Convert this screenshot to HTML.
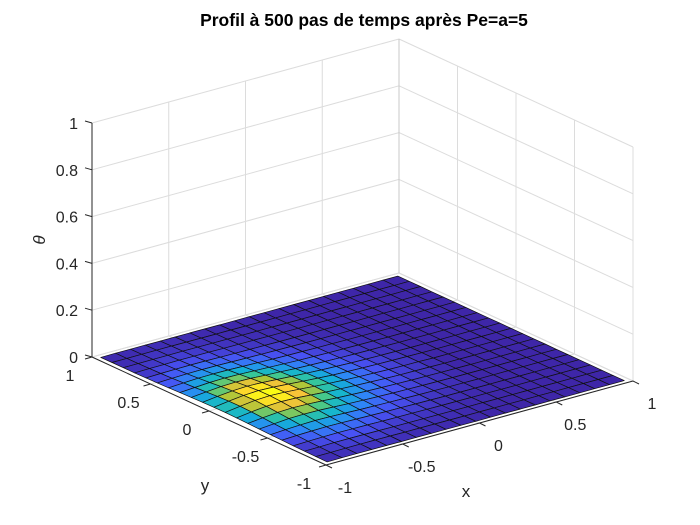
<!DOCTYPE html>
<html><head><meta charset="utf-8">
<style>
html,body{margin:0;padding:0;background:#fff;}
svg{display:block;font-family:"Liberation Sans",Arial,sans-serif;}
</style></head>
<body>
<svg id="chart" width="700" height="525" viewBox="0 0 700 525" xmlns="http://www.w3.org/2000/svg">
<rect width="700" height="525" fill="#fff"/>
<g id="walls"></g>
<g id="surf"></g>
<g id="axes"></g>
<text x="364" y="26" text-anchor="middle" font-size="17.5" font-weight="bold" fill="#000">Profil à 500 pas de temps après Pe=a=5</text>
</svg>
<script>
const xTicks = [-1, -0.5, 0, 0.5, 1];
const yTicks = [-1, -0.5, 0, 0.5, 1];
const zTicks = [0, 0.2, 0.4, 0.6, 0.8, 1];
const zTickLabels = ["0", "0.2", "0.4", "0.6", "0.8", "1"];
const xTickLabels = ["-1", "-0.5", "0", "0.5", "1"];
const yTickLabels = ["-1", "-0.5", "0", "0.5", "1"];
const gridN = 21;
const gridMin = -0.968, gridMax = 0.968;
const baseTheta = 0;
const peakTheta = 0.03;
const blockI0 = 0, blockJ0 = 0;
const thetaPct = [
 [1,2,4,7,11,15,21,27,32,35,34,30,25,19,13,9,5,3,2,1,0],
 [2,4,7,12,20,29,39,49,59,65,63,56,46,34,25,16,10,6,3,2,1],
 [3,5,10,17,27,40,54,68,81,90,87,77,63,48,34,23,14,8,5,3,1],
 [3,6,11,19,30,44,60,76,90,100,97,86,70,53,38,25,15,9,5,3,1],
 [3,6,10,17,28,40,55,70,83,92,89,79,64,49,35,23,14,8,5,3,1],
 [2,5,8,14,23,33,46,58,68,76,74,65,53,40,29,19,11,7,4,2,1],
 [2,3,6,11,17,26,35,44,52,60,58,52,43,32,23,15,9,5,3,2,1],
 [1,3,5,8,14,20,27,34,40,45,44,39,31,24,17,11,6,4,2,1,0],
 [1,2,4,7,11,15,20,25,29,32,31,28,23,17,12,8,5,3,1,1,0],
 [1,2,3,5,8,11,14,18,21,23,22,20,16,12,9,6,3,2,1,1,0],
 [0,1,2,3,5,7,10,12,14,16,15,13,11,8,6,4,2,1,1,0,0],
 [0,1,1,2,3,5,6,8,9,10,10,9,7,5,4,2,1,1,0,0,0],
 [0,0,1,1,2,3,4,5,6,6,6,5,4,3,2,1,1,0,0,0,0],
 [0,0,0,1,1,2,2,3,3,4,4,3,3,2,1,1,0,0,0,0,0]
];

const NS = "http://www.w3.org/2000/svg";
const F = [326, 465], EX = [153.5, -42], EY = [-117, -54], ZS = 234;
function P(x, y, z) {
  return [F[0] + (x + 1) * EX[0] + (y + 1) * EY[0], F[1] + (x + 1) * EX[1] + (y + 1) * EY[1] - z * ZS];
}
function el(tag, attrs, parent) {
  const e = document.createElementNS(NS, tag);
  for (const k in attrs) e.setAttribute(k, attrs[k]);
  parent.appendChild(e);
  return e;
}
function line(a, b, stroke, w, parent, name) {
  const e = el("line", {x1: a[0], y1: a[1], x2: b[0], y2: b[1], stroke: stroke, "stroke-width": w}, parent);
  
  
  return e;
}
const parula = [[0.2422,0.1504,0.6603],[0.2810,0.3228,0.9579],[0.1786,0.5289,0.9682],[0.0689,0.6948,0.8394],[0.2161,0.7843,0.5923],[0.6720,0.7793,0.2227],[0.9970,0.7659,0.2199],[0.9769,0.9839,0.0805]];
function cmap(t) {
  t = Math.max(0, Math.min(1, t));
  const s = t * (parula.length - 1), i = Math.min(parula.length - 2, Math.floor(s)), f = s - i;
  const c = parula[i].map((v, k) => Math.round(255 * (v + (parula[i + 1][k] - v) * f)));
  return "rgb(" + c.join(",") + ")";
}

const walls = document.getElementById("walls");
const gc = "#dcdcdc";
xTicks.forEach(x => { line(P(x, 1, 0), P(x, 1, 1), gc, 1, walls, "wall-grid-x"); line(P(x, -1, 0), P(x, 1, 0), gc, 1, walls, "floor-grid-x"); });
yTicks.forEach(y => { line(P(1, y, 0), P(1, y, 1), gc, 1, walls, "wall-grid-y"); line(P(-1, y, 0), P(1, y, 0), gc, 1, walls, "floor-grid-y"); });
zTicks.forEach(z => { line(P(-1, 1, z), P(1, 1, z), gc, 1, walls, "wall-grid-z"); line(P(1, 1, z), P(1, -1, z), gc, 1, walls, "wall-grid-z"); });
line(P(1, 1, 0), P(1, 1, 1), "#c8c8c8", 1, walls, "back-edge");

const surf = document.getElementById("surf");
const coords = [];
for (let i = 0; i < gridN; i++) coords.push(gridMin + (gridMax - gridMin) * i / (gridN - 1));
function theta(i, j) {
  const bi = i - blockI0, bj = j - blockJ0;
  if (bi >= 0 && bi < thetaPct.length && bj >= 0 && bj < thetaPct[0].length) return baseTheta + thetaPct[bi][bj] / 100 * peakTheta;
  return baseTheta;
}
let zmax = 0;
for (let i = 0; i < gridN; i++) for (let j = 0; j < gridN; j++) zmax = Math.max(zmax, theta(i, j));
const cells = [];
for (let i = 0; i < gridN - 1; i++) for (let j = 0; j < gridN - 1; j++) cells.push([i, j]);
cells.sort((a, b) => (b[0] + b[1]) - (a[0] + a[1]) || (b[1] - a[1]));
cells.forEach(([i, j]) => {
  const pts = [[i, j], [i + 1, j], [i + 1, j + 1], [i, j + 1]].map(([a, b]) => P(coords[a], coords[b], theta(a, b)));
  const avg = (2 * theta(i, j) + theta(i + 1, j) + theta(i + 1, j + 1) + theta(i, j + 1)) / 5;
  const p = el("polygon", {points: pts.map(q => q[0].toFixed(1) + "," + q[1].toFixed(1)).join(" "), fill: cmap(zmax > 0 ? avg / zmax * 1.05 : 0), stroke: "#111", "stroke-width": 0.7, "stroke-linejoin": "round"}, surf);
  
  
});

const axes = document.getElementById("axes");
line(P(-1, 1, 0), P(-1, 1, 1), "#262626", 1, axes, "z-axis-line");
line(P(-1, 1, 0), P(-1, -1, 0), "#262626", 1, axes, "y-axis-line");
line(P(-1, -1, 0), P(1, -1, 0), "#262626", 1, axes, "x-axis-line");
function txt(s, x, y, anchor, name, extra) {
  const t = el("text", {x: x, y: y, "text-anchor": anchor, "font-size": 16, fill: "#262626"}, axes);
  if (extra) for (const k in extra) t.setAttribute(k, extra[k]);
  t.textContent = s;
  
  
  return t;
}
zTicks.forEach((z, k) => {
  const a = P(-1, 1, z);
  line(a, [a[0] - 7, a[1] - 2], "#262626", 1, axes, "z-tick");
  txt(zTickLabels[k], a[0] - 14, a[1] + 6, "end", "z-tick-label");
});
yTicks.forEach((y, k) => {
  const a = P(-1, y, 0);
  line(a, [a[0] - 7, a[1] + 2], "#262626", 1, axes, "y-tick");
  txt(yTickLabels[k], a[0] - 22, a[1] + 24, "middle", "y-tick-label");
});
xTicks.forEach((x, k) => {
  const a = P(x, -1, 0);
  line(a, [a[0] + 6, a[1] + 3], "#262626", 1, axes, "x-tick");
  txt(xTickLabels[k], a[0] + 19, a[1] + 28, "middle", "x-tick-label");
});
txt("y", 205, 491, "middle", "y-axis-title", {"font-size": 17});
txt("x", 466, 497, "middle", "x-axis-title", {"font-size": 17});
txt("θ", 0, 0, "middle", "z-axis-title", {"font-size": 17, "font-style": "italic", transform: "translate(45,240) rotate(-90)"});
</script>
</body></html>
